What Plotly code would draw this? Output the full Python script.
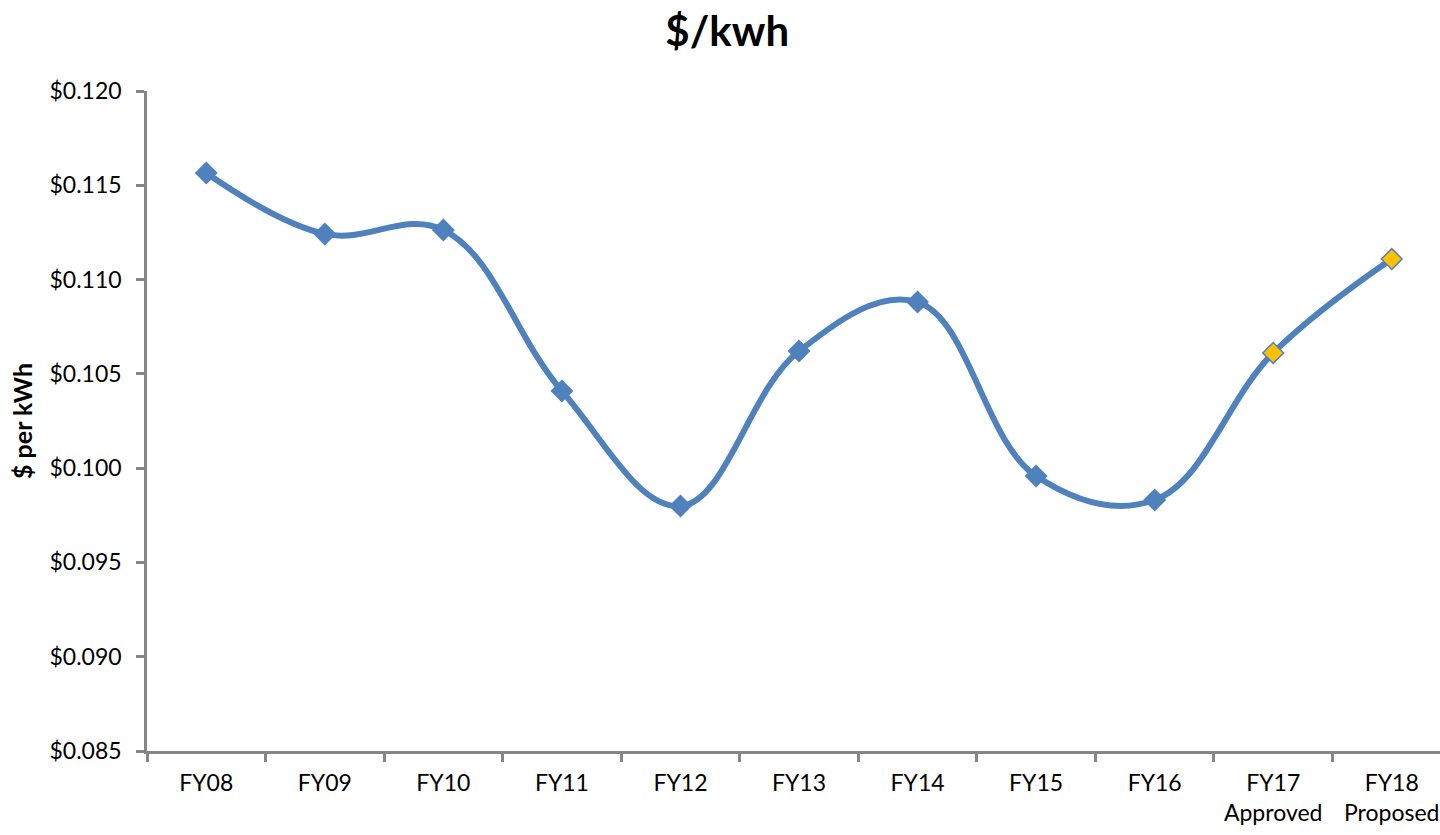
import plotly.graph_objects as go

# Fiscal-year labels and cost per kWh
categories = ["FY08", "FY09", "FY10", "FY11", "FY12", "FY13", "FY14",
              "FY15", "FY16", "FY17<br>Approved", "FY18<br>Proposed"]
rate_per_kwh = [0.11565, 0.11242, 0.11263, 0.10409, 0.09799, 0.10621,
                0.10881, 0.09958, 0.09831, 0.10611, 0.11109]
# Last two years are budget figures, highlighted in gold
marker_fill = ["#4F81BD"] * 9 + ["#FFC000"] * 2

y_ticks = [0.085, 0.090, 0.095, 0.100, 0.105, 0.110, 0.115, 0.120]

FONT = "Lato, Calibri, 'Open Sans', sans-serif"
BLUE = "#4F81BD"
AXIS = "#868686"

fig = go.Figure()
fig.add_trace(go.Scatter(
    x=categories,
    y=rate_per_kwh,
    mode="lines+markers",
    line=dict(color=BLUE, width=6, shape="spline", smoothing=1.1),
    marker=dict(symbol="diamond", size=16, color=marker_fill,
                line=dict(color=BLUE, width=1.5)),
    cliponaxis=False,
    showlegend=False,
))

fig.update_layout(
    width=1440,
    height=835,
    margin=dict(l=147, r=0, t=91, b=84),
    paper_bgcolor="white",
    plot_bgcolor="white",
    font=dict(family=FONT, size=23, color="black"),
    title=dict(text="<b>$/kwh</b>", x=0.505, xanchor="center",
               y=0.963, yanchor="middle",
               font=dict(family=FONT, size=42, color="black")),
    xaxis=dict(
        type="category",
        range=[-0.5, 10.407],
        showgrid=False,
        showline=True, linecolor=AXIS, linewidth=2.5,
        ticks="outside", tickson="boundaries", ticklen=8,
        tickcolor=AXIS, tickwidth=2.5,
        ticklabelstandoff=10,
        tickfont=dict(family=FONT, size=23, color="black"),
        zeroline=False,
    ),
    yaxis=dict(
        range=[0.085, 0.120],
        tickvals=y_ticks,
        tickformat="$.3f",
        showgrid=False,
        showline=True, linecolor=AXIS, linewidth=2.5,
        ticks="outside", ticklen=8, tickcolor=AXIS, tickwidth=2.5,
        ticklabelstandoff=10,
        tickfont=dict(family=FONT, size=23, color="black"),
        zeroline=False,
        title=dict(text="<b>$ per kWh</b>", standoff=10,
                   font=dict(family=FONT, size=25, color="black")),
    ),
)

fig.write_html("out.html")
